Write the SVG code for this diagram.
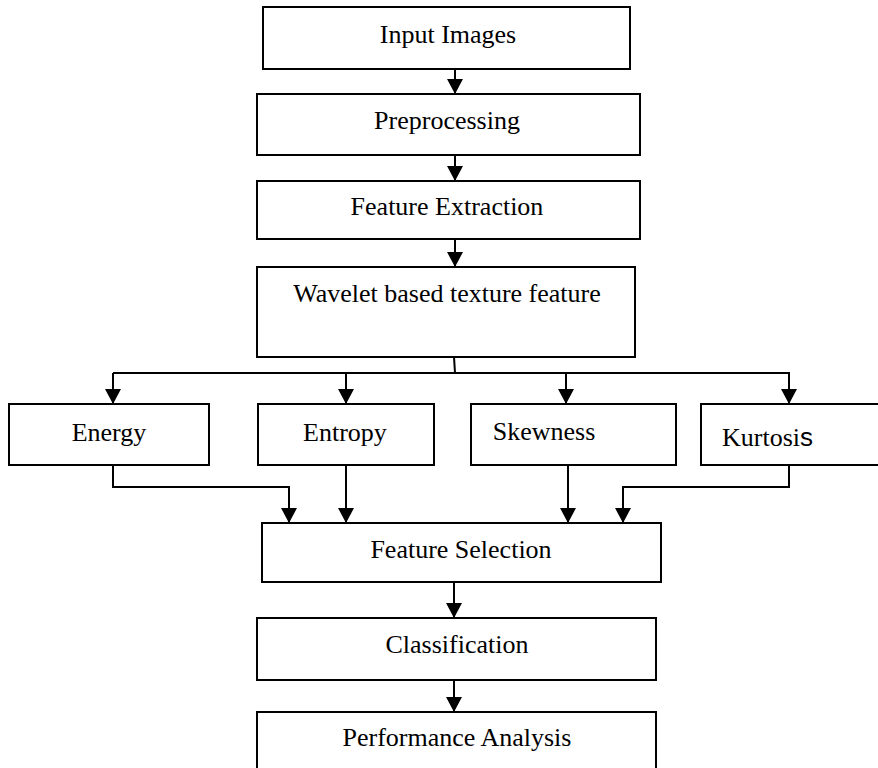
<svg xmlns="http://www.w3.org/2000/svg" width="878" height="768" viewBox="0 0 878 768">
<style>
.box{fill:#fff;stroke:#000;stroke-width:2}
.t{font-family:"Liberation Serif","Times New Roman",serif;font-size:26px;fill:#000;text-anchor:middle}
.c{fill:none;stroke:#000;stroke-width:2}
</style>
<defs>
<marker id="ah" markerWidth="15" markerHeight="16" refX="15" refY="8" orient="auto" markerUnits="userSpaceOnUse">
<path d="M0,0 L15,8 L0,16 Z" fill="#000"/>
</marker>
</defs>
<rect width="878" height="768" fill="#fff"/>
<g id="n-input"><rect class="box" x="263" y="7" width="367" height="62"/><text class="t" x="448" y="43">Input Images</text></g>
<g id="n-pre"><rect class="box" x="257" y="94" width="383" height="61"/><text class="t" x="447" y="129">Preprocessing</text></g>
<g id="n-fe"><rect class="box" x="257" y="181" width="383" height="58"/><text class="t" x="447" y="215">Feature Extraction</text></g>
<g id="n-wav"><rect class="box" x="257" y="267" width="378" height="90"/><text class="t" x="447" y="302">Wavelet based texture feature</text></g>
<g id="n-energy"><rect class="box" x="9" y="404" width="200" height="61"/><text class="t" x="109" y="441">Energy</text></g>
<g id="n-entropy"><rect class="box" x="258" y="404" width="176" height="61"/><text class="t" x="345" y="441">Entropy</text></g>
<g id="n-skew"><rect class="box" x="471" y="404" width="205" height="61"/><text class="t" x="544" y="440">Skewness</text></g>
<g id="n-kurt"><rect class="box" x="701" y="404" width="190" height="61"/><text class="t" x="722" y="446" style="text-anchor:start">Kurtosi<tspan style="font-family:'Liberation Sans',Arial,sans-serif">s</tspan></text></g>
<g id="n-fs"><rect class="box" x="262" y="523" width="399" height="59"/><text class="t" x="461" y="558">Feature Selection</text></g>
<g id="n-cls"><rect class="box" x="257" y="618" width="399" height="62"/><text class="t" x="457" y="653">Classification</text></g>
<g id="n-perf"><rect class="box" x="257" y="712" width="399" height="58"/><text class="t" x="457" y="746">Performance Analysis</text></g>
<g id="connectors">
<line class="c" x1="455" y1="69" x2="455" y2="94" marker-end="url(#ah)"/>
<line class="c" x1="455" y1="155" x2="455" y2="181" marker-end="url(#ah)"/>
<line class="c" x1="455" y1="239" x2="455" y2="267" marker-end="url(#ah)"/>
<line class="c" x1="454" y1="357" x2="455" y2="373"/>
<line class="c" x1="113" y1="373" x2="790" y2="373"/>
<line class="c" x1="113" y1="373" x2="113" y2="404" marker-end="url(#ah)"/>
<line class="c" x1="346" y1="373" x2="346" y2="404" marker-end="url(#ah)"/>
<line class="c" x1="566" y1="373" x2="566" y2="404" marker-end="url(#ah)"/>
<line class="c" x1="789" y1="373" x2="789" y2="404" marker-end="url(#ah)"/>
<polyline class="c" points="113,465 113,487 289,487 289,523" marker-end="url(#ah)"/>
<line class="c" x1="346" y1="465" x2="346" y2="523" marker-end="url(#ah)"/>
<line class="c" x1="568" y1="465" x2="568" y2="523" marker-end="url(#ah)"/>
<polyline class="c" points="789,465 789,487 623,487 623,523" marker-end="url(#ah)"/>
<line class="c" x1="454" y1="582" x2="454" y2="618" marker-end="url(#ah)"/>
<line class="c" x1="454" y1="680" x2="454" y2="712" marker-end="url(#ah)"/>
</g>
</svg>
